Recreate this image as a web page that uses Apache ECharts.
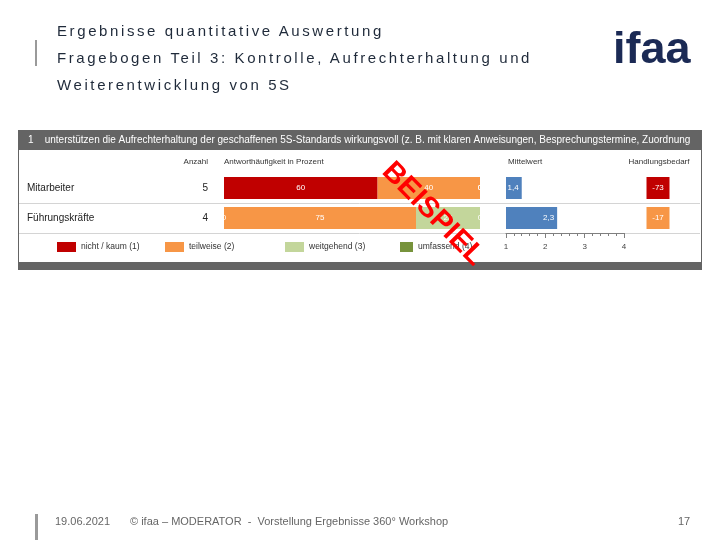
<!DOCTYPE html>
<html>
<head>
<meta charset="utf-8">
<title>Ergebnisse quantitative Auswertung</title>
<script src="https://cdn.jsdelivr.net/npm/echarts@6/dist/echarts.min.js"></script>
<style>
body { margin: 0; background: #fff; }
#slide { position: relative; width: 720px; height: 540px; overflow: hidden; font-family: 'Liberation Sans', Arial, sans-serif; }
#chart { position: absolute; left: 0; top: 0; width: 720px; height: 540px; }
.bar { position: absolute; left: 35px; width: 3px; background: #9a9a9a; }
.title { position: absolute; left: 57px; top: 17px; color: #1f2a3a; font-size: 15px; line-height: 27px; letter-spacing: 2.6px; white-space: nowrap; }
.logo { position: absolute; left: 613px; top: 22px; color: #1b2a55; font-size: 45px; font-weight: bold; }
.foot { position: absolute; top: 514px; color: #666; font-size: 11px; line-height: 14px; white-space: nowrap; }
</style>
</head>
<body>
<div id="slide">
  <div id="chart"></div>
  <div class="bar" style="top:40px;height:26px;width:2px"></div>
  <div class="title">Ergebnisse quantitative Auswertung<br>Fragebogen Teil 3: Kontrolle, Aufrechterhaltung und<br>Weiterentwicklung von 5S</div>
  <div class="logo">ifaa</div>
  <div class="bar" style="top:514px;height:26px"></div>
  <div class="foot" style="left:55px">19.06.2021</div>
  <div class="foot" style="left:130px">© ifaa – MODERATOR&nbsp; - &nbsp;Vorstellung Ergebnisse 360° Workshop</div>
  <div class="foot" style="left:678px">17</div>
</div>
<script>
// Werte
var rows = ['Mitarbeiter', 'Führungskräfte'];
var anzahl = [5, 4];
var levels = ['nicht / kaum (1)', 'teilweise (2)', 'weitgehend (3)', 'umfassend (4)'];
var nichtKaum = [60, 0];
var teilweise = [40, 75];
var weitgehend = [0, 25];
var umfassend = [0, 0];
var mittelwert = [1.4, 2.3];
var handlungsbedarf = [-73, -17];
var mwTicks = [1, 4, 1];

var frage = '1    unterstützen die Aufrechterhaltung der geschaffenen 5S-Standards wirkungsvoll (z. B. mit klaren Anweisungen, Besprechungstermine, Zuordnung';
var levelColors = ['#c00000', '#f79646', '#c3d69b', '#77933c'];
var font = 'Liberation Sans';

var chart = echarts.init(document.getElementById('chart'));

function stackSeries(name, values, color) {
  return {
    name: name,
    type: 'bar',
    stack: 'anteil',
    xAxisIndex: 0,
    yAxisIndex: 0,
    barWidth: 22,
    data: values,
    itemStyle: { color: color },
    label: { show: true, position: 'inside', color: '#fff', fontSize: 8, fontFamily: font }
  };
}

var legendLeft = [57, 165, 285, 400];
var legends = levels.map(function (l, i) {
  return {
    data: [l],
    left: legendLeft[i],
    top: 242,
    padding: 0,
    icon: 'rect',
    itemWidth: i === 3 ? 13 : 19,
    itemHeight: 10,
    selectedMode: false,
    textStyle: { fontSize: 8.5, color: '#333', fontFamily: font }
  };
});

var headText = { fontSize: 8, fill: '#333', fontFamily: font };

var option = {
  animation: false,
  legend: legends,
  grid: [
    { left: 224, width: 256, top: 173, height: 60 },
    { left: 506, width: 118, top: 173, height: 60 },
    { left: 646, width: 24, top: 173, height: 60 }
  ],
  xAxis: [
    { gridIndex: 0, type: 'value', min: 0, max: 100, show: false },
    {
      gridIndex: 1, type: 'value', min: mwTicks[0], max: mwTicks[1], interval: mwTicks[2],
      axisLine: { show: true, lineStyle: { color: '#7f7f7f' } },
      axisTick: { show: true, length: 5, lineStyle: { color: '#7f7f7f' } },
      minorTick: { show: true, splitNumber: 5, length: 3, lineStyle: { color: '#7f7f7f' } },
      splitLine: { show: false },
      axisLabel: { fontSize: 8, color: '#444', margin: 10, fontFamily: font }
    },
    { gridIndex: 2, type: 'category', data: ['Handlungsbedarf'], show: false }
  ],
  yAxis: [
    {
      gridIndex: 0, type: 'category', data: rows, inverse: true,
      axisLine: { show: false }, axisTick: { show: false },
      axisLabel: {
        margin: 16,
        formatter: function (v, i) { return '{n|' + v + '}{a|' + anzahl[i] + '}'; },
        rich: {
          n: { width: 173, align: 'left', fontSize: 10, color: '#222', fontFamily: font },
          a: { width: 8, align: 'right', fontSize: 10, color: '#222', fontFamily: font }
        }
      }
    },
    { gridIndex: 1, type: 'category', data: rows, inverse: true, show: false },
    { gridIndex: 2, type: 'category', data: rows, inverse: true, show: false }
  ],
  series: [
    stackSeries(levels[0], nichtKaum, levelColors[0]),
    stackSeries(levels[1], teilweise, levelColors[1]),
    stackSeries(levels[2], weitgehend, levelColors[2]),
    stackSeries(levels[3], umfassend, levelColors[3]),
    {
      name: 'Mittelwert',
      type: 'bar',
      xAxisIndex: 1,
      yAxisIndex: 1,
      barWidth: 22,
      data: mittelwert,
      itemStyle: { color: '#4f81bd' },
      label: {
        show: true, position: 'insideRight', distance: 3, color: '#fff', fontSize: 8, fontFamily: font,
        formatter: function (p) { return String(p.value).replace('.', ','); }
      }
    },
    {
      name: 'Handlungsbedarf',
      type: 'scatter',
      xAxisIndex: 2,
      yAxisIndex: 2,
      symbol: 'rect',
      symbolSize: [23, 22],
      data: handlungsbedarf.map(function (v, i) { return [0, i, v]; }),
      itemStyle: {
        opacity: 1,
        color: function (p) { return p.value[2] <= -50 ? levelColors[0] : levelColors[1]; }
      },
      label: {
        show: true, position: 'inside', color: '#fff', fontSize: 8, fontFamily: font,
        formatter: function (p) { return p.value[2]; }
      }
    }
  ],
  graphic: [
    { type: 'rect', shape: { x: 18, y: 130, width: 684, height: 140 }, style: { fill: '#646464' } },
    { type: 'rect', shape: { x: 19, y: 150, width: 682, height: 112 }, style: { fill: '#fff' } },
    {
      type: 'text', x: 28, y: 140,
      style: { text: frage, fill: '#fff', fontSize: 10, fontFamily: font, verticalAlign: 'middle', width: 668, overflow: 'truncate', ellipsis: '' }
    },
    { type: 'line', shape: { x1: 19, y1: 203.5, x2: 700, y2: 203.5 }, style: { stroke: '#d4d4d4', lineWidth: 1 } },
    { type: 'line', shape: { x1: 19, y1: 233.5, x2: 700, y2: 233.5 }, style: { stroke: '#d4d4d4', lineWidth: 1 } },
    { type: 'text', x: 208, y: 162, style: Object.assign({ text: 'Anzahl', align: 'right', verticalAlign: 'middle' }, headText) },
    { type: 'text', x: 224, y: 162, style: Object.assign({ text: 'Antworthäufigkeit in Prozent', verticalAlign: 'middle' }, headText) },
    { type: 'text', x: 508, y: 162, style: Object.assign({ text: 'Mittelwert', verticalAlign: 'middle' }, headText) },
    { type: 'text', x: 659, y: 162, style: Object.assign({ text: 'Handlungsbedarf', align: 'center', verticalAlign: 'middle' }, headText) },
    {
      type: 'text', x: 433, y: 214, z: 100, rotation: -Math.PI / 4 - 0.01,
      style: { text: 'BEISPIEL', fill: '#ff0000', fontSize: 29, fontWeight: 'bold', fontFamily: font, align: 'center', verticalAlign: 'middle' }
    }
  ]
};

chart.setOption(option);
</script>
</body>
</html>
